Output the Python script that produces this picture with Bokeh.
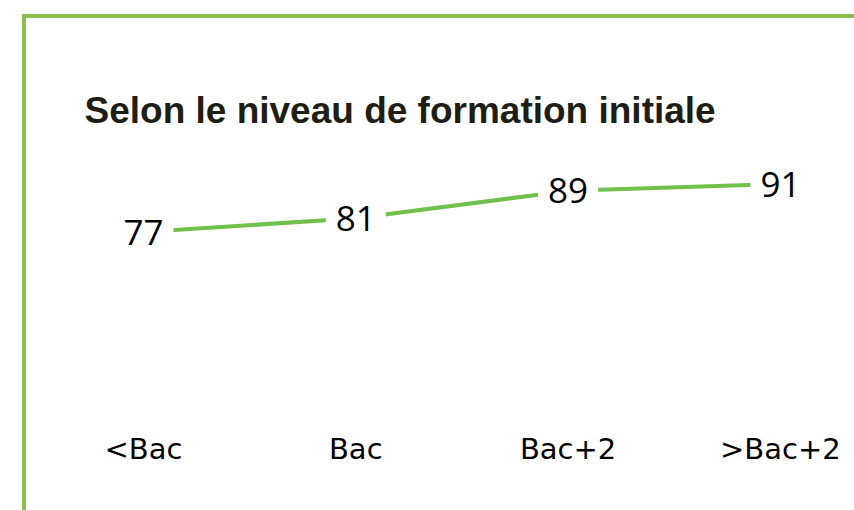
from bokeh.plotting import figure
from bokeh.models import Range1d, FixedTicker, ColumnDataSource
from bokeh.core.properties import value
from bokeh.embed import file_html
from bokeh.resources import INLINE

# --- data ---
categories = ["<Bac", "Bac", "Bac+2", ">Bac+2"]
values = [77, 81, 89, 91]
title_text = "Selon le niveau de formation initiale"

positions = list(range(len(categories)))
source = ColumnDataSource(dict(x=positions, y=values, label=[str(v) for v in values]))

BORDER = "#8abf4f"
LINE = "#70c04c"

p = figure(
    width=832, height=496,
    x_range=Range1d(-0.551, 3.349),
    y_range=Range1d(23.5, 106.6),
    y_axis_location=None,
    output_backend="svg",
    toolbar_location=None,
    min_border_left=0, min_border_right=4,
    min_border_top=112, min_border_bottom=99,
)
p.styles = {
    "margin-left": "22px",
    "margin-top": "14px",
    "border-top": f"4px solid {BORDER}",
    "border-left": f"4px solid {BORDER}",
}

p.outline_line_color = None
p.xgrid.visible = False
p.ygrid.visible = False
p.background_fill_color = "white"
p.border_fill_color = "white"

# title
p.title.text = title_text
p.title.align = "left"
p.title.offset = 58
p.title.standoff = 0
p.title.text_font = "Liberation Sans"
p.title.text_font_style = "bold"
p.title.text_font_size = "37px"
p.title.text_color = "#1e1e14"

# x axis with category labels
ax = p.xaxis[0]
ax.ticker = FixedTicker(ticks=positions)
ax.major_label_overrides = {i: c for i, c in zip(positions, categories)}
ax.axis_line_color = None
ax.major_tick_line_color = None
ax.minor_tick_line_color = None
ax.major_tick_out = 0
ax.major_label_standoff = 16
ax.major_label_text_font = "DejaVu Sans"
ax.major_label_text_font_size = "29px"
ax.major_label_text_color = "black"

# line
p.line("x", "y", source=source, line_color=LINE, line_width=4)

# value labels with white background hiding the line
p.text("x", "y", text="label", source=source,
       text_align="center", text_baseline="middle",
       text_font=value("Open Sans"), text_font_size="35px", text_color="black",
       background_fill_color="white", padding=10)

open("out.html", "w").write(file_html(p, INLINE))
